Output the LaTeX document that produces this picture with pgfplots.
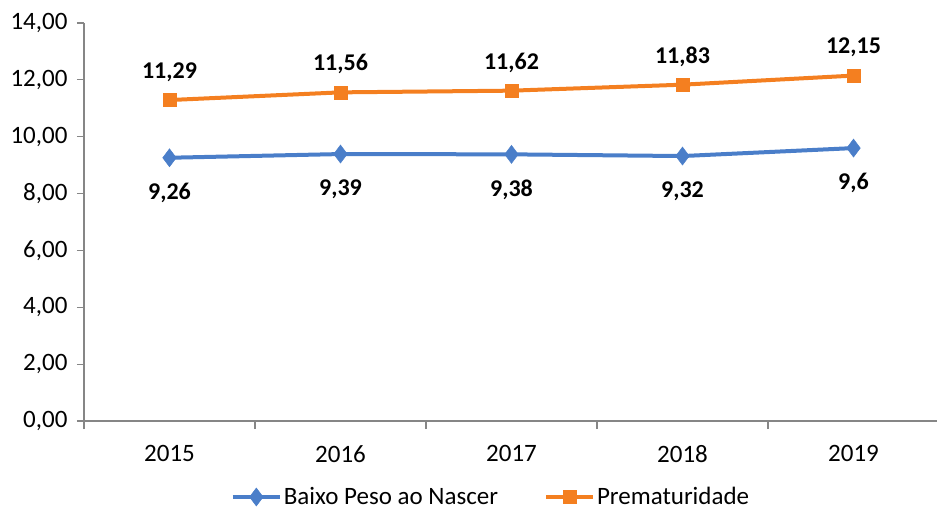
\documentclass[border=0pt]{standalone}
\usepackage{pgfplots}
\pgfplotsset{compat=1.18}
\usepackage{fontspec}
\setmainfont{Carlito}
\definecolor{azul}{HTML}{4A7EC9}
\definecolor{laranja}{HTML}{F47F20}
\definecolor{eixo}{HTML}{868686}

\begin{document}
\begin{tikzpicture}
\begin{axis}[
	scale only axis,
	width=855pt,
	height=398pt,
	xmin=-0.5, xmax=4.5,
	ymin=0, ymax=14,
	axis lines=left,
	axis line style={-, eixo, line width=1.5pt},
	xtick={0,...,4},
	xticklabels={2015,2016,2017,2018,2019},
	minor xtick={-0.5,0.5,...,4.5},
	ytick={0,2,...,14},
	tick align=outside,
	major tick length=7pt,
	minor tick length=8pt,
	x tick style={draw=none},
	minor x tick style={draw=eixo, line width=1.2pt},
	y tick style={eixo, line width=1.2pt},
	tick label style={font=\fontsize{25}{29}\selectfont, text=black},
	xticklabel style={yshift=-14pt},
	yticklabel style={xshift=-6pt},
	/pgf/number format/.cd, fixed, fixed zerofill, precision=2, use comma, assume math mode=true,
	/pgfplots/.cd,
	point meta=explicit symbolic,
	nodes near coords,
	every node near coord/.append style={font=\fontsize{24}{28}\selectfont\bfseries, text=black},
	legend style={at={(0.476,-0.191)}, anchor=center, draw=none, fill=none,
		legend columns=-1, font=\fontsize{25}{29}\selectfont,
		/tikz/every even column/.append style={column sep=44pt}},
	legend image code/.code={
		\draw[#1] (0pt,0pt) -- (47pt,0pt);
		\draw[#1, mark repeat=2, mark phase=2] plot coordinates {(0pt,0pt) (23.5pt,0pt) (47pt,0pt)};
	},
]
\addplot[azul, line width=4pt, mark=diamond*, mark size=9pt, mark options={solid, line width=0.5pt},
	every node near coord/.append style={anchor=center, yshift=-35pt}]
	coordinates {(0,9.26) [9,26] (1,9.39) [9,39] (2,9.38) [9,38] (3,9.32) [9,32] (4,9.6) [9,6]};
\addlegendentry{Baixo Peso ao Nascer}
\addplot[laranja, line width=4pt, mark=square*, mark size=6.5pt, mark options={solid, line width=0.5pt},
	every node near coord/.append style={anchor=center, yshift=28pt}]
	coordinates {(0,11.29) [11,29] (1,11.56) [11,56] (2,11.62) [11,62] (3,11.83) [11,83] (4,12.15) [12,15]};
\addlegendentry{Prematuridade}
\end{axis}
\pgfresetboundingbox
\path (-84pt,-91pt) rectangle (853pt,421pt);
\end{tikzpicture}
\end{document}
